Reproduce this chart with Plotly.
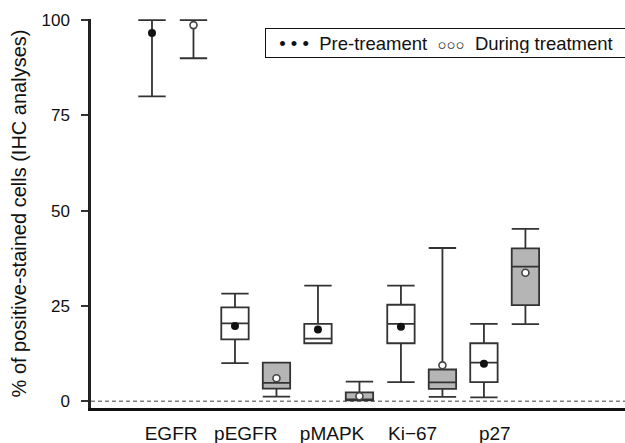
import plotly.graph_objects as go

categories = ["EGFR", "pEGFR", "pMAPK", "Ki−67", "p27"]

# Pre-treatment box statistics
pre_lower = [80, 10, 15.2, 5, 1]
pre_q1 = [100, 16.2, 15.2, 15.2, 5]
pre_median = [100, 20.4, 16.4, 20.3, 10.1]
pre_q3 = [100, 24.6, 20.3, 25.3, 15.2]
pre_upper = [100, 28.2, 30.3, 30.3, 20.3]
pre_mean = [96.6, 19.7, 18.8, 19.5, 9.8]

# During-treatment box statistics
dur_lower = [90, 1.2, 0.2, 1.1, 20.2]
dur_q1 = [100, 3.3, 0.2, 3.2, 25.2]
dur_median = [100, 4.8, 0.2, 4.9, 35.3]
dur_q3 = [100, 10.1, 2.3, 8.3, 40.1]
dur_upper = [100, 10.1, 5.1, 40.2, 45.2]
dur_mean = [98.7, 6.0, 1.3, 9.4, 33.7]

n = len(categories)
pre_x = [i for i in range(n)]
dur_x = [i + 0.5 for i in range(n)]
label_x = [0.23, 1.13, 2.17, 3.14, 4.13]

edge = "#333333"
font_family = "Liberation Sans, Arial, sans-serif"

fig = go.Figure()
fig.add_trace(go.Box(
    x=pre_x, q1=pre_q1, median=pre_median, q3=pre_q3,
    lowerfence=pre_lower, upperfence=pre_upper,
    width=0.33, whiskerwidth=1, fillcolor="white",
    line=dict(color=edge, width=1.8), boxpoints=False, showlegend=False,
    hoverinfo="skip"))
fig.add_trace(go.Box(
    x=dur_x, q1=dur_q1, median=dur_median, q3=dur_q3,
    lowerfence=dur_lower, upperfence=dur_upper,
    width=0.33, whiskerwidth=1, fillcolor="#b5b5b5",
    line=dict(color=edge, width=1.8), boxpoints=False, showlegend=False,
    hoverinfo="skip"))
fig.add_trace(go.Scatter(
    x=pre_x, y=pre_mean, mode="markers", showlegend=False,
    marker=dict(symbol="circle", size=8, color="#111111",
                line=dict(color="#111111", width=0))))
fig.add_trace(go.Scatter(
    x=dur_x, y=dur_mean, mode="markers", showlegend=False,
    marker=dict(symbol="circle", size=7, color="white",
                line=dict(color="#444444", width=1.6))))

fig.add_shape(type="line", xref="paper", x0=0, x1=1, yref="y", y0=0, y1=0,
              line=dict(color="#808080", width=1.5, dash="4px,3px"), layer="below")

fig.add_annotation(
    xref="paper", yref="paper", x=0.326, y=0.938, xanchor="left", yanchor="middle",
    text="• • •  Pre-treament  <span style='font-size:15px'>○○○</span>  During treatment",
    showarrow=False, font=dict(family=font_family, size=18.5, color="#111111"),
    width=352, height=20, bordercolor="#111111", borderwidth=1, borderpad=4,
    bgcolor="white", align="center")

fig.update_layout(
    width=625, height=443,
    margin=dict(l=91, r=0, t=19, b=35),
    paper_bgcolor="white", plot_bgcolor="white",
    font=dict(family=font_family, color="#111111"),
    xaxis=dict(range=[-0.735, 5.7], tickmode="array", tickvals=label_x,
               ticktext=categories, showgrid=False, zeroline=False,
               showline=True, linecolor="#111111", linewidth=3, ticks="",
               tickfont=dict(size=19), ticklabelstandoff=6),
    yaxis=dict(range=[-1.8, 100.3], tickvals=[0, 25, 50, 75, 100],
               showgrid=False, zeroline=False, showline=True,
               linecolor="#222222", linewidth=2.5, ticks="outside", ticklen=7,
               tickwidth=1.5, tickcolor="#333333", tickfont=dict(size=17),
               ticklabelstandoff=8,
               title=dict(text="% of positive-stained cells (IHC analyses)",
                          font=dict(size=20), standoff=10)),
)

fig.write_html("out.html", config={"displayModeBar": False},
               post_script="document.body.style.margin='0px';"
                           "document.body.style.overflow='hidden';")
